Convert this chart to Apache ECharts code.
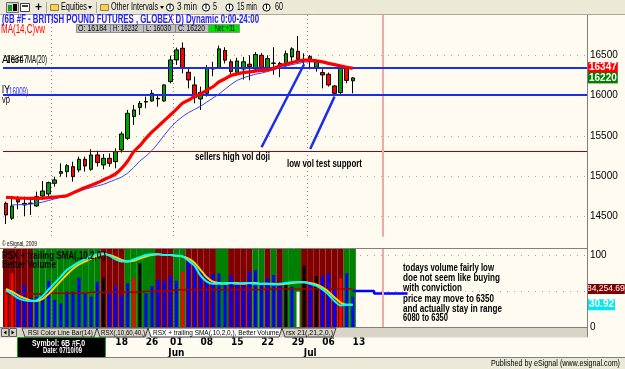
<!DOCTYPE html>
<html>
<head>
<meta charset="utf-8">
<script src="https://cdn.jsdelivr.net/npm/echarts@6.0.0/dist/echarts.min.js"></script>
<style>
html,body{margin:0;padding:0;background:#fffbf0;overflow:hidden;}
#chart{width:625px;height:369px;}
</style>
</head>
<body>
<div id="chart"></div>
<script>
// ================= DATA =================
const dates = ['04/21','04/22','04/23','04/24','04/27','04/28','04/29','04/30','05/01','05/04','05/05','05/06','05/07','05/08','05/11','05/12','05/13','05/14','05/15','05/18','05/19','05/20','05/21','05/22','05/26','05/27','05/28','05/29','06/01','06/02','06/03','06/04','06/05','06/08','06/09','06/10','06/11','06/12','06/15','06/16','06/17','06/18','06/19','06/22','06/23','06/24','06/25','06/26','06/29','06/30','07/01','07/02','07/03','07/06','07/07','07/08','07/09','07/10',
  '07/13','07/14','07/15','07/16','07/17','07/20','07/21','07/22','07/23','07/24','07/27','07/28','07/29','07/30','07/31','08/03','08/04','08/05','08/06','08/07','08/10','08/11','08/12','08/13','08/14','08/17','08/18','08/19','08/20','08/21','08/24','08/25','08/26','08/27','08/28','08/31','09/01','09/02'];

const opens  = [14665,14480,14715,14665,14662,14632,14756,14781,14913,15037,15058,15120,15079,15211,15087,15265,15141,15223,15182,15327,15471,15740,15852,15920,15934,15967,15934,16174,16443,16587,16290,16133,15959,16029,16330,16350,16560,16420,16290,16330,16390,16330,16500,16340,16400,16400,16380,16480,16550,16440,16484,16352,16286,16265,16120,16038,16339,16184];
const highs  = [14686,14740,14756,14748,14740,14810,14942,14934,14996,15161,15153,15182,15244,15244,15335,15318,15277,15285,15347,15554,15823,15885,15934,15988,16071,16017,16141,16496,16596,16660,16348,16236,16112,16381,16420,16620,16600,16450,16470,16480,16500,16540,16530,16500,16600,16420,16560,16600,16740,16525,16505,16422,16327,16286,16133,16368,16352,16232];
const lows   = [14409,14459,14591,14508,14520,14624,14707,14756,14872,14996,14988,14934,15050,15058,15070,15120,15087,15120,15099,15294,15451,15637,15761,15843,15926,15864,15926,16153,16381,16277,16091,15905,15823,15988,16240,16335,16400,16240,16250,16200,16190,16300,16310,16300,16260,16230,16360,16420,16420,16360,16327,16298,16091,16112,15995,16021,16153,16030];
const closes = [14521,14632,14682,14645,14668,14748,14818,14922,14955,15058,15132,14996,15211,15128,15265,15170,15223,15161,15306,15525,15781,15823,15905,15928,16029,15960,16133,16443,16567,16339,16195,15976,16042,16339,16340,16580,16440,16300,16430,16420,16360,16510,16350,16460,16405,16370,16520,16580,16450,16445,16422,16414,16257,16133,16029,16352,16189,16220];

const maWeighted = [14740,14735,14730,14728,14727,14727,14730,14735,14742,14750,14760,14795,14828,14860,14890,14920,14955,14990,15030,15099,15190,15306,15380,15470,15550,15620,15690,15760,15830,15905,15945,15990,16020,16070,16110,16170,16210,16250,16270,16285,16295,16305,16312,16319,16340,16370,16393,16410,16428,16440,16440,16432,16420,16400,16385,16368,16352,16339];
const ma20 = [null,14645,14648,14650,14655,14665,14680,14700,14720,14740,14765,14790,14815,14840,14860,14880,14900,14930,14960,14990,15040,15110,15190,15250,15320,15410,15510,15600,15680,15740,15790,15830,15870,15920,15970,16020,16080,16140,16190,16220,16245,16265,16280,16300,16320,16345,16365,16385,16400,16415,16420,16415,16405,16395,16380,16370,16360,16350];

const volume = [83600,119000,79800,93100,63600,67200,70900,102600,59900,52500,78300,78300,109300,74700,67200,100400,109300,78300,90900,70900,96900,109300,141200,74700,90900,104200,102000,113100,102600,122600,148500,141200,127900,116800,117500,119000,96900,115300,100400,93100,122600,126400,100400,108000,115300,96900,94700,89300,78300,135900,93100,113100,113100,119000,86500,108000,119000,67200];
const volumeColorCodes = ['R','R','B','B','B','B','B','B','B','B','B','B','B','B','B','B','K','B','B','B','B','R','K','B','B','B','B','B','B','R','B','B','B','B','B','B','B','B','B','B','B','B','B','B','B','B','K','B','W','K','B','K','B','B','B','R','B','B'];
const volumeAvg = [73200,73200,73200,73200,73200,73200,73200,74700,74700,74700,74700,74700,74700,74700,76900,76900,76900,76900,76900,76900,76900,76900,76900,79100,79100,79100,79100,79100,82700,82700,82700,82700,82700,82700,82700,82700,82700,82700,82700,82700,82700,82700,82700,84500,84500,84500,84500,84500,84500,84500,84500,84500,84500,84500,84500,84500,84500,84254.69];
const volumeProjDates = ['07/10','07/13','07/14','07/15','07/16','07/17','07/20','07/21','07/22','07/23'];
const volumeProj = [79800,79800,79800,79800,74300,74300,74300,74300,74300,74300];

const rsx = [51,46,40,37,36,37,43,52,61,70,79,85,90,94,98,101,102,99,94,91,91,94,97,100,101,101,100,100,99,98,92,85,71,63,60,60,61,61,60,61,61,60,60,60,59,60,61,62,62,62,60,57,52,45,36,30,31,30.92];
const rsxSma = [53,49,44,40,37,36,39,46,55,64,73,81,87,91,95,99,101,100,97,93,91,92,95,98,100,101,100,100,99,98,95,89,79,69,63,61,60,61,61,60,61,61,60,60,60,59,60,61,62,62,61,59,55,49,41,34,31,31];
const rsxBandCodes = ['R','R','R','R','R','G','G','G','G','G','G','G','G','G','G','G','R','R','R','R','G','G','G','G','G','R','R','R','G','G','R','R','R','R','R','G','G','R','R','R','R','G','G','R','G','R','G','G','G','R','R','R','R','R','R','R','G','G'];

const resistanceLevel = 16347;
const supportLevel = 16009;
const alertLevel = 15314;
const expiryDate = '07/17';
const monthStartDates = ['05/01','06/01','07/01'];
const labelDates = ['05/18','05/26','06/01','06/08','06/15','06/22','06/29','07/06','07/13'];
const monthDates = ['06/01','07/01'];
const monthNames = ['Jun','Jul'];
const arrowDoji = [['06/19',15360],['06/30',16389]];
const arrowSupport = [['07/01',15339],['07/07',15988]];

// ================= HELPERS =================
const FONT = '"Liberation Sans", Arial, sans-serif';
const mctx = document.createElement('canvas').getContext('2d');
function txt(s, x, y, w, size, bold, color, family, extra) {
  const font = (bold ? 'bold ' : '') + size + 'px ' + (family || FONT);
  mctx.font = font;
  const mw = mctx.measureText(s).width || 1;
  const el = {type:'text', x:x, y:y, scaleX: w ? w / mw : 1, silent:true, z:100,
    style:{text:s, font:font, fill:color, textAlign:'left', align:'left', textVerticalAlign:'middle', verticalAlign:'middle'}};
  if (extra) Object.assign(el, extra);
  return el;
}
function rect(x,y,w,h,fill,stroke,z){
  return {type:'rect', shape:{x:x,y:y,width:w,height:h}, silent:true, z:z||90, style:{fill:fill, stroke:stroke||null, lineWidth:1}};
}
function line(x1,y1,x2,y2,stroke,w,z){
  return {type:'line', shape:{x1:x1,y1:y1,x2:x2,y2:y2}, silent:true, z:z||95, style:{stroke:stroke, lineWidth:w||1}};
}
function poly(points, fill, stroke, z){
  return {type:'polygon', shape:{points:points}, silent:true, z:z||96, style:{fill:fill, stroke:stroke||null, lineWidth:1}};
}

const N = dates.length;
const last = closes.length - 1;
const candleData = opens.map((o,i)=>[o, closes[i], lows[i], highs[i]]);
const volColorMap = {B:'#0000ff', R:'#ff0000', K:'#000000', W:'#ffffff'};
const bandColorMap = {R:'#800000', G:'#008000'};
const monthIdx = new Set(monthStartDates.map(d=>dates.indexOf(d)));
const RSX_MAX = 108.33;
const VOL_MAX = 173000;
const dotColor = '#c49a90';
const HIDDEN = {color:'rgba(0,0,0,0)', width:1, type:'solid'};

function dayLabel(v){
  let s = labelDates.indexOf(v) >= 0 ? v.slice(3) : '';
  const m = monthDates.indexOf(v);
  if (m >= 0) s += '\n' + monthNames[m];
  return s;
}
const netChange = closes[last] - closes[last-1];

// ================= GRAPHIC =================
const g = [];
// toolbar
g.push(rect(0,0,625,14.5,'#ece9d8',null,90));
g.push(line(0,14.5,625,14.5,'#aca899',1));
g.push(rect(6.5,2.5,12,10,'#d0d0d0','#707070'));
g.push(rect(8,5,4,6,'#10a010',null,97)); g.push(rect(13,4,4,7,'#000000',null,97));
g.push(rect(20.5,3.5,9,8,'#ffffff','#404040'));
g.push(rect(22,5,6,2,'#404040',null,97));
g.push(txt('+',35,7.5,7,13,true,'#000'));
g.push(line(46.5,2,46.5,13,'#aca899',1));
g.push(rect(50.5,4.5,8,6,'#f4d060','#a08020'));
g.push(txt('Equities',61,7.5,26,10,false,'#000'));
g.push(poly([[88,6],[92,6],[90,9]],'#000'));
g.push(line(96.5,2,96.5,13,'#aca899',1));
g.push(rect(100.5,4.5,8,6,'#f4d060','#a08020'));
g.push(txt('Other Intervals',111,7.5,47,10,false,'#000'));
g.push(poly([[160,6],[164,6],[162,9]],'#000'));
[[170,'3 min',177,20],[206,'5',213,4],[229.5,'15 min',237,20],[266.5,'60',275,8]].forEach(a=>{
  g.push({type:'circle', shape:{cx:a[0], cy:7.5, r:3.6}, silent:true, z:96, style:{fill:'#ffffff', stroke:'#000', lineWidth:1}});
  g.push(txt('I',a[0]-1,7.5,2,7,true,'#000'));
  g.push(txt(a[1],a[2],7.5,a[3],10,false,'#000'));
});
// title texts
g.push(txt('(6B #F - BRITISH POUND FUTURES , GLOBEX D) Dynamic 0:00-24:00',2,20,257,12,true,'#2222ff'));
g.push(txt('MA(14,C)vw',1,29.5,44,12,false,'#ff0000'));
// OHLC box
g.push(rect(76.5,24.5,132,8,'#c0c0c0','#909090'));
g.push(txt('O: ' + opens[last],78,28.5,29,9,false,'#000'));
g.push(txt('H: ' + highs[last],113,28.5,25,9,false,'#000'));
g.push(txt('L: ' + lows[last],146,28.5,25,9,false,'#000'));
g.push(txt('C: ' + closes[last],178,28.5,27,9,false,'#000'));
g.push(line(110.5,24.5,110.5,32.5,'#808080',1)); g.push(line(143.5,24.5,143.5,32.5,'#808080',1)); g.push(line(175.5,24.5,175.5,32.5,'#808080',1));
g.push(rect(208.5,24.5,31,8,'#00e000','#909090'));
g.push(txt('Net: ' + (netChange>=0?'+':'') + netChange,215,28.5,20,9,false,'#000'));
// left labels
g.push(txt('Alert',2,60,20,10,false,'#000'));
g.push(txt(String(resistanceLevel),6,60,22,10,false,'#000'));
g.push(txt('MA(20)',27,60,20,10,false,'#000'));
g.push(txt('lY',2,90,8,10,false,'#000'));
g.push(txt('(' + supportLevel + ')',7,92.5,21,10,false,'#2222ff'));
g.push(txt('vp',2,100,8,10,false,'#000'));
g.push(txt('\u00a9 eSignal, 2009',2,244,35,8,false,'#000'));
// annotations
g.push(txt('sellers high vol doji',195,156.5,75,11,true,'#000'));
g.push(txt('low vol test support',287,164,75,11,true,'#000'));
// lower panel texts
g.push(txt('RSX + trailing SMA(,10,2,0,)',2,255.5,104,11,true,'#000'));
g.push(txt('Better Volume',2,265,54,11,true,'#000'));
const notes = [['todays volume fairly low',267.7,91],['doe not seem like buying',278.3,97],['with conviction',288.3,59],['price may move to 6350',299,91],['and actually stay in range',309,99],['6080 to 6350',317.7,45]];
notes.forEach(n=>g.push(txt(n[0],403,n[1],n[2],11,true,'#000')));
// frame lines
g.push(line(0,248.5,587,248.5,'#808080',1));
g.push(line(587.5,15,587.5,337,'#808080',1));
// tab bar
g.push(rect(0,327.5,587,10,'#d8d4c8',null,90));
g.push(line(0,327.5,587,327.5,'#808080',1));
g.push(rect(1.5,328.5,7,8,'#d8d4c8','#606060'));
g.push(rect(9.5,328.5,7,8,'#d8d4c8','#606060'));
g.push(poly([[6.5,330.5],[6.5,334.5],[3.5,332.5]],'#000'));
g.push(poly([[11.5,330.5],[11.5,334.5],[14.5,332.5]],'#000'));
g.push(poly([[22,328],[97,328],[94,337],[25,337]],'#d8d4c8','#404040'));
g.push(poly([[97,328],[148,328],[145,337],[100,337]],'#d8d4c8','#404040'));
g.push(poly([[148,328],[282,328],[279,337],[151,337]],'#ffffff','#404040'));
g.push(poly([[282,328],[336,328],[333,337],[285,337]],'#d8d4c8','#404040'));
g.push(txt('RSI Color Line Bar(14)',28,332.7,65,8,false,'#000'));
g.push(txt('RSX(,10,60,40,)',101,332.7,44,8,false,'#000'));
g.push(txt('RSX + trailing SMA(,10,2,0,), Better Volume',153,332.7,126,8,false,'#000'));
g.push(txt('rsx 21(,21,2,0,)',286,332.7,47,8,false,'#000'));
// symbol box
g.push(rect(17.5,337.5,88,20,'#000000','#00b000'));
g.push(txt('Symbol: 6B #F,0',32,343.3,53,9,true,'#ffffff'));
g.push(txt('Date: ' + dates[last] + '/09',43,350.7,39,9,true,'#ffffff'));
// bottom bar
g.push(rect(0,357.5,625,11.5,'#ece9d8',null,90));
g.push(line(0,357.5,625,357.5,'#808080',1));
g.push(txt('Published by eSignal (www.esignal.com)',491,363.5,129,9,false,'#000'));

// ================= OPTION =================
const catAxisBase = {type:'category', data:dates, boundaryGap:true,
  axisLine:{show:false}, axisTick:{show:false}};
const monthSplit = {show:true, interval:(i)=>monthIdx.has(i), lineStyle:{type:[1,3], color:'#b08080', width:1}};
const valueLabel = (bg, text, bold, size) => ({show:true, position:'end', distance:1, formatter:text,
  backgroundColor:bg, color:'#ffffff', fontSize:size||10, fontWeight: bold ? 'bold' : 'normal', padding:[1,1,0,1]});

const option = {
  animation:false,
  backgroundColor:'#fffbf0',
  textStyle:{fontFamily:FONT},
  grid:[
    {left:3, right:38, top:15, height:221.8, outerBoundsMode:'none', containLabel:false},
    {left:3, right:38, top:249, height:78, outerBoundsMode:'none', containLabel:false}
  ],
  xAxis:[
    Object.assign({}, catAxisBase, {gridIndex:0, axisLabel:{show:false}, splitLine:monthSplit}),
    Object.assign({}, catAxisBase, {gridIndex:1, splitLine:monthSplit,
      axisLabel:{show:true, interval:(i,v)=>labelDates.indexOf(v)>=0 || monthDates.indexOf(v)>=0,
        formatter:dayLabel, margin:10, fontSize:10, fontWeight:'bold', lineHeight:11, color:'#000',
        fontFamily:'"Liberation Sans Narrow", "DejaVu Sans Condensed", Arial, sans-serif'}}),
    Object.assign({}, catAxisBase, {gridIndex:1, show:false})
  ],
  yAxis:[
    {type:'value', gridIndex:0, position:'right', min:14250, max:17000, interval:250, scale:true,
      axisLine:{show:false}, axisTick:{show:false},
      axisLabel:{margin:3, fontSize:10, color:'#000', formatter:(v)=> (v%500===0 && v<17000) ? String(v) : ''},
      splitLine:{show:true, showMaxLine:false, lineStyle:{type:[1,6], color:['rgba(0,0,0,0)', dotColor], width:1}}},
    {type:'value', gridIndex:1, position:'right', min:0, max:RSX_MAX, interval:50,
      axisLine:{show:false}, axisTick:{show:false},
      axisLabel:{margin:3, fontSize:10, color:'#000', formatter:(v)=> (v===0||v===100) ? String(v) : ''},
      splitLine:{show:true, showMaxLine:false, lineStyle:{type:[1,6], color:['rgba(0,0,0,0)', dotColor, dotColor], width:1}}},
    {type:'value', gridIndex:1, min:0, max:VOL_MAX, show:false, splitLine:{show:false}}
  ],
  graphic:{elements:g},
  series:[
    {type:'candlestick', name:'6B', xAxisIndex:0, yAxisIndex:0, data:candleData, barWidth:4, z:3,
      itemStyle:{color:'#00a000', color0:'#ff0000', borderColor:'#000000', borderColor0:'#000000', borderWidth:1},
      markLine:{silent:true, symbol:['none','none'], animation:false, label:{show:false}, z:4,
        data:[
          {yAxis:alertLevel, lineStyle:{color:'#a00000', width:1, type:'solid'}},
          {xAxis:expiryDate, lineStyle:{color:'#f0a8a8', width:2, type:'solid'}},
          {yAxis:supportLevel, lineStyle:{color:'#1a2ee6', width:2, type:'solid'}},
          {yAxis:resistanceLevel, lineStyle:{color:'#1a2ee6', width:2, type:'solid'},
            label:valueLabel('#ff0000', String(resistanceLevel), true)},
          {yAxis:closes[last], lineStyle:HIDDEN, label:valueLabel('#008000', String(closes[last]), true)},
          [{coord:arrowDoji[0], lineStyle:{color:'#1a2ee6', width:2.5, type:'solid'}}, {coord:arrowDoji[1]}],
          [{coord:arrowSupport[0], lineStyle:{color:'#1a2ee6', width:2.5, type:'solid'}}, {coord:arrowSupport[1]}]
        ]}},
    {type:'line', name:'MA20', xAxisIndex:0, yAxisIndex:0, data:ma20, symbol:'none', z:5,
      lineStyle:{color:'#3344ff', width:1}},
    {type:'line', name:'MA14vw', xAxisIndex:0, yAxisIndex:0, data:maWeighted, symbol:'none', smooth:0.3, z:6,
      lineStyle:{color:'#ff0000', width:3.2}},
    {type:'bar', name:'band', xAxisIndex:2, yAxisIndex:1, barWidth:'100%', barCategoryGap:'0%', z:1, silent:true,
      data:rsxBandCodes.map(c=>({value:RSX_MAX, itemStyle:{color:bandColorMap[c]}})),
      markLine:{silent:true, symbol:['none','none'], label:{show:false},
        data:[{xAxis:expiryDate, lineStyle:{color:'#f0a8a8', width:2, type:'solid'}}]}},
    {type:'bar', name:'volume', xAxisIndex:1, yAxisIndex:2, barWidth:3, z:2, silent:true,
      data:volume.map((v,i)=>({value:v, itemStyle:{color:volColorMap[volumeColorCodes[i]]}}))},
    {type:'line', name:'volAvg', xAxisIndex:1, yAxisIndex:2, data:volumeAvg, symbol:'none', z:3,
      lineStyle:{color:'#a00000', width:1.5},
      markLine:{silent:true, symbol:['none','none'], z:10,
        data:[{yAxis:volumeAvg[last], lineStyle:HIDDEN,
          label:Object.assign(valueLabel('#800000', volumeAvg[last].toLocaleString('en-US',{minimumFractionDigits:2}), false, 8.5), {distance:0, padding:[1,0,0,0]})}]}},
    {type:'line', name:'volProj', xAxisIndex:1, yAxisIndex:2, data:volumeProjDates.map((d,i)=>[d, volumeProj[i]]), symbol:'none', step:'middle', z:3,
      lineStyle:{color:'#0000ff', width:2.5}},
    {type:'line', name:'rsxSma', xAxisIndex:1, yAxisIndex:1, data:rsxSma, symbol:'none', smooth:0.3, z:4,
      lineStyle:{color:'#ffd200', width:2}},
    {type:'line', name:'rsx', xAxisIndex:1, yAxisIndex:1, data:rsx, symbol:'none', smooth:0.3, z:5,
      lineStyle:{color:'#00ffff', width:2}},
    {type:'line', name:'rsxLabel', xAxisIndex:1, yAxisIndex:1, data:[], symbol:'none',
      markLine:{silent:true, symbol:['none','none'], z:10,
        data:[{yAxis:rsx[last], lineStyle:HIDDEN, label:valueLabel('#00e8f0', String(rsx[last]), true, 10)}]}}
  ]
};
const chart = echarts.init(document.getElementById('chart'), null, {renderer:'canvas'});
chart.setOption(option);
</script>
</body>
</html>
